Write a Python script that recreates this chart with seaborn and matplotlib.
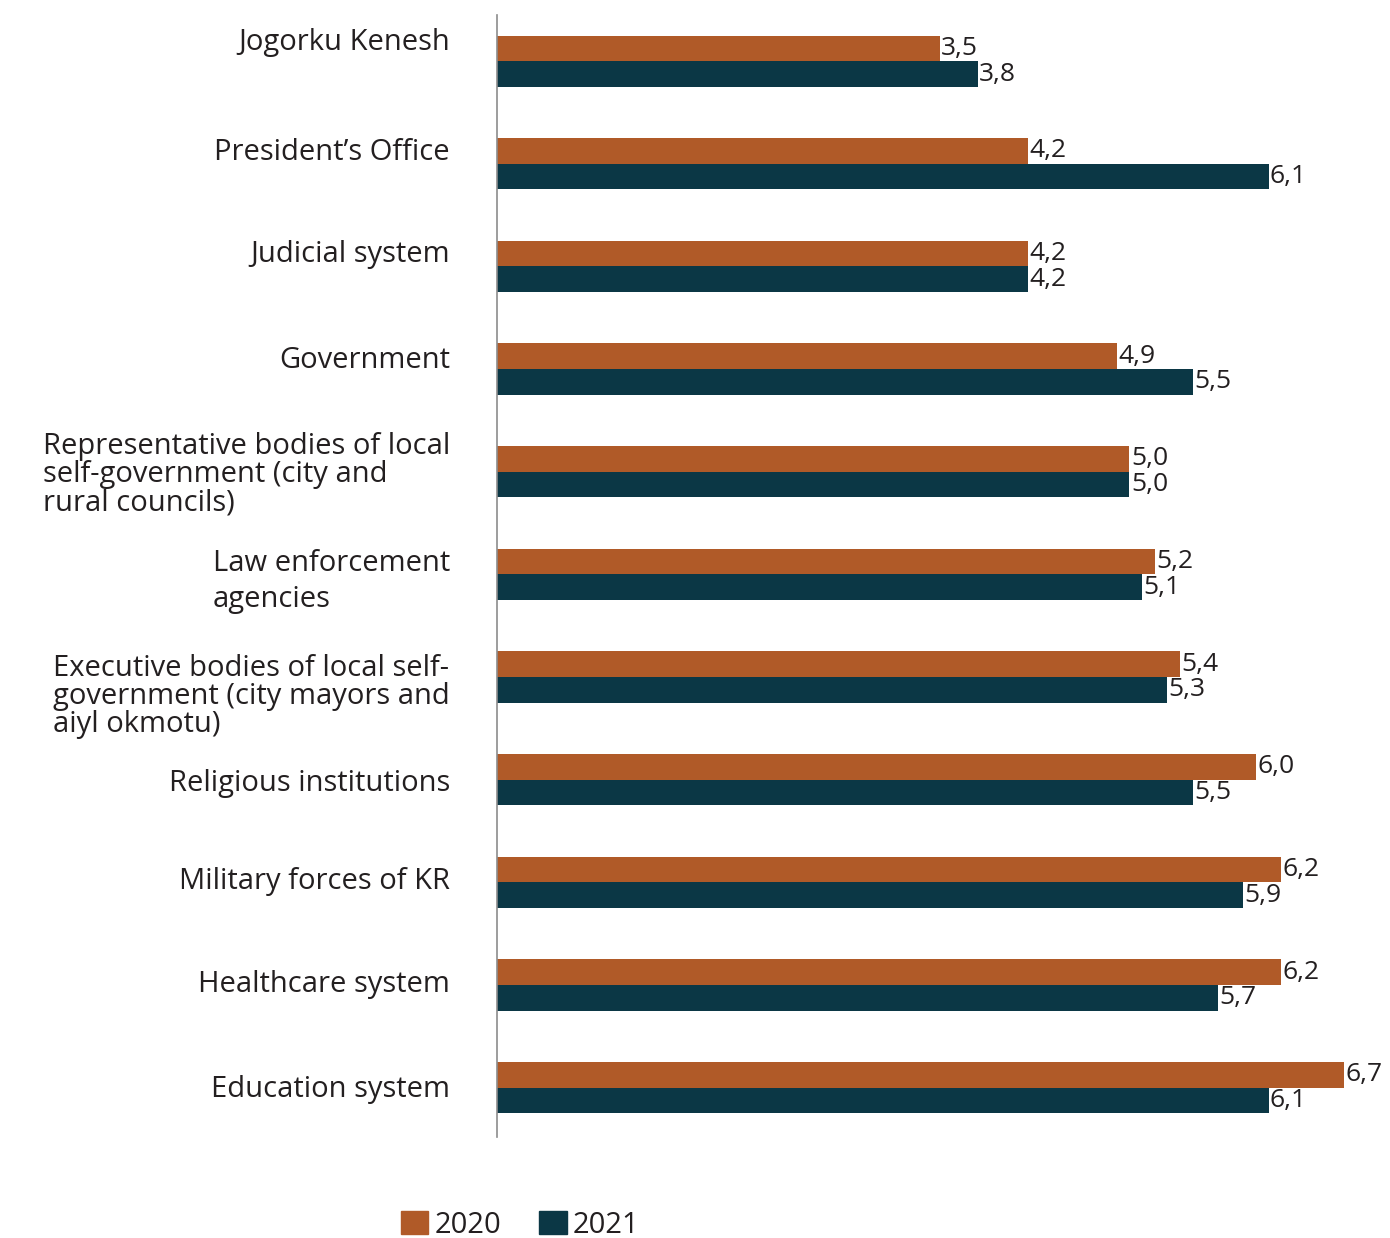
import pandas as pd
import numpy as np
import matplotlib.pyplot as plt
import matplotlib.transforms as mtransforms
import seaborn as sns

sns.set_style('white')
plt.rcParams['font.family'] = ['Open Sans', 'DejaVu Sans']

# DATA
categories = [
    'Jogorku Kenesh',
    'President\u2019s Office',
    'Judicial system',
    'Government',
    'Representative bodies of local\nself-government (city and\nrural councils)',
    'Law enforcement\nagencies',
    'Executive bodies of local self-\ngovernment (city mayors and\naiyl okmotu)',
    'Religious institutions',
    'Military forces of KR',
    'Healthcare system',
    'Education system',
]
values_2020 = [3.5, 4.2, 4.2, 4.9, 5.0, 5.2, 5.4, 6.0, 6.2, 6.2, 6.7]
values_2021 = [3.8, 6.1, 4.2, 5.5, 5.0, 5.1, 5.3, 5.5, 5.9, 5.7, 6.1]
years = ['2020', '2021']

colors = {'2020': '#B05A28', '2021': '#0B3745'}
text_color = '#231F20'
# small vertical nudges of the category labels (points, up is positive)
label_nudge = [16, 11, 11, 9, 0, 0, -12, 0, 3, 3, 1]

df = pd.DataFrame({
    'category': categories * 2,
    'value': values_2020 + values_2021,
    'year': [years[0]] * len(categories) + [years[1]] * len(categories),
})

fig = plt.figure(figsize=(13.9, 12.38), dpi=100)
ax = fig.add_axes([0.3576, 0.0816, 0.6424, 0.9063])

sns.barplot(data=df, y='category', x='value', hue='year', orient='h',
            palette=colors, width=0.5, ax=ax, legend=False, saturation=1,
            linewidth=0)

# value labels with comma decimals
for cont in ax.containers:
    labels = [f'{v:.1f}'.replace('.', ',') for v in cont.datavalues]
    ax.bar_label(cont, labels=labels, padding=1, fontsize=19, color=text_color)

ax.set_xlim(0, 7.06)
ax.set_ylim(10.48, -0.45)
ax.set_xlabel('')
ax.set_ylabel('')
ax.set_xticks([])

for s in ['top', 'right', 'bottom']:
    ax.spines[s].set_visible(False)
ax.spines['left'].set_color('#8C8C8C')
ax.spines['left'].set_linewidth(1.2)

ax.tick_params(axis='y', length=0, pad=34, labelsize=21, labelcolor=text_color)
for lab, dy in zip(ax.get_yticklabels(), label_nudge):
    lab.set_multialignment('left')
    lab.set_linespacing(0.95)
    if lab.get_text().startswith('Law'):
        lab.set_linespacing(1.3)
    lab.set_transform(lab.get_transform() +
                      mtransforms.ScaledTranslation(0, dy / 72, fig.dpi_scale_trans))

# legend
handles = [plt.Rectangle((0, 0), 1, 1, color=colors[y]) for y in years]
fig.legend(handles, years, loc='center', bbox_to_anchor=(0.374, 0.0105), ncol=2,
           frameon=False, fontsize=21, handlelength=0.95, handleheight=0.85,
           handletextpad=0.2, columnspacing=1.3, labelcolor=text_color)

plt.savefig('out.png', dpi=100)
